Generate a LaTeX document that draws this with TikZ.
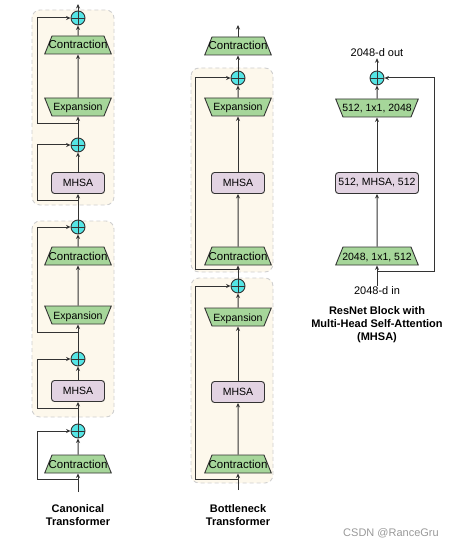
\documentclass[tikz,border=0pt]{standalone}
\usepackage{fontspec}
\setmainfont{Liberation Sans}
\usetikzlibrary{shapes.geometric,arrows.meta}

\definecolor{linegray}{HTML}{333333}
\definecolor{convgreen}{HTML}{A6D69A}
\definecolor{attnpurple}{HTML}{E2D3E2}
\definecolor{addcyan}{HTML}{55E5E5}
\definecolor{boxfill}{HTML}{FDF8EC}
\definecolor{boxgray}{HTML}{CFCFCF}

\newcommand{\boxfont}{\fontsize{10.5}{12}\selectfont}
% label of fixed size, may run over the slanted sides
\newcommand{\tlabel}[2][52pt]{\makebox[#1]{\rule[-2.5pt]{0pt}{13pt}#2}}

\tikzstyle{contract} = [trapezium, trapezium left angle=68, trapezium right angle=68, draw=linegray, line width=0.9pt, fill=convgreen, inner xsep=0pt, inner ysep=2.5pt, font=\boxfont]
\tikzstyle{expand} = [contract, shape border rotate=180]
\tikzstyle{widetext} = [font=\fontsize{11.5}{12}\selectfont]
\tikzstyle{attn} = [rectangle, rounded corners=3, draw=linegray, line width=0.9pt, fill=attnpurple, minimum width=53, minimum height=21, inner sep=0pt, font=\boxfont]
\tikzstyle{addop} = [circle, draw=linegray, line width=0.9pt, fill=addcyan, minimum size=14, inner sep=0pt,
    path picture={\draw[linegray, line width=0.8pt] (path picture bounding box.north) -- (path picture bounding box.south)
        (path picture bounding box.west) -- (path picture bounding box.east);}]
\tikzstyle{stage} = [draw=boxgray, line width=0.9pt, dash pattern=on 4pt off 3pt, fill=boxfill, rounded corners=8]
\tikzstyle{flow} = [draw=linegray, line width=1pt, -{Stealth[length=4.5pt,width=4pt]}]
\tikzstyle{caption} = [align=center, font=\bfseries\fontsize{11}{13}\selectfont]

\begin{document}
\begin{tikzpicture}[x=1pt, y=-1pt]
    \useasboundingbox (0,0) rectangle (462,548);
    % background stages
    \draw[stage] (32,10) rectangle (114,205);
    \draw[stage] (32,221) rectangle (114,417);
    \draw[stage] (191,68) rectangle (273,272);
    \draw[stage] (191,278) rectangle (273,483);

    % Canonical transformer
    \node[addop] (ca1) at (78,18) {};
    \node[contract, widetext] (cc1) at (78,45) {\tlabel{Contraction}};
    \node[expand] (ce1) at (78,107) {\tlabel{Expansion}};
    \node[addop] (ca2) at (78,145) {};
    \node[attn] (cm1) at (78,183) {MHSA};
    \node[addop] (ca3) at (78,227) {};
    \node[contract, widetext] (cc2) at (78,256) {\tlabel{Contraction}};
    \node[expand] (ce2) at (78,315) {\tlabel{Expansion}};
    \node[addop] (ca4) at (78,359) {};
    \node[attn] (cm2) at (78,391) {MHSA};
    \node[addop] (ca5) at (78,431) {};
    \node[contract, widetext] (cc3) at (78,464) {\tlabel{Contraction}};
    \coordinate (cin) at (78,492);
    \coordinate (cout) at (78,4);
    \coordinate (cs1) at (78,124);
    \coordinate (cs2) at (78,200);
    \coordinate (cs3) at (78,332);
    \coordinate (cs4) at (78,408);
    \coordinate (cs5) at (78,479);
    \foreach \a/\b in {cin/cc3, cc3/ca5, ca5/cm2, cm2/ca4, ca4/ce2, ce2/cc2, cc2/ca3,
                       ca3/cm1, cm1/ca2, ca2/ce1, ce1/cc1, cc1/ca1, ca1/cout}
        \draw[flow] (\a) -- (\b);
    \foreach \s/\t in {cs1/ca1, cs2/ca2, cs3/ca3, cs4/ca4, cs5/ca5}
        \draw[flow] (\s) -- ++(-41,0) |- (\t);
    \node[caption] (ccap) at (78,515) {Canonical\\Transformer};

    % Bottleneck transformer
    \node[contract, widetext] (bc1) at (238,46) {\tlabel{Contraction}};
    \node[addop] (ba1) at (238,78) {};
    \node[expand] (be1) at (238,107) {\tlabel{Expansion}};
    \node[attn] (bm1) at (238,183) {MHSA};
    \node[contract, widetext] (bc2) at (238,256) {\tlabel{Contraction}};
    \node[addop] (ba2) at (238,286) {};
    \node[expand] (be2) at (238,317) {\tlabel{Expansion}};
    \node[attn] (bm2) at (238,392) {MHSA};
    \node[contract, widetext] (bc3) at (238,464) {\tlabel{Contraction}};
    \coordinate (bin) at (238,490);
    \coordinate (bout) at (238,25);
    \coordinate (bs1) at (238,269);
    \coordinate (bs2) at (238,479);
    \foreach \a/\b in {bin/bc3, bc3/bm2, bm2/be2, be2/ba2, ba2/bc2, bc2/bm1,
                       bm1/be1, be1/ba1, ba1/bc1, bc1/bout}
        \draw[flow] (\a) -- (\b);
    \foreach \s/\t in {bs1/ba1, bs2/ba2}
        \draw[flow] (\s) -- ++(-43,0) |- (\t);
    \node[caption] (bcap) at (238,515) {Bottleneck\\Transformer};

    % ResNet block with MHSA
    \node[addop] (ra) at (377,78) {};
    \node[expand] (re) at (377,108) {\tlabel[68pt]{512, 1x1, 2048}};
    \node[attn, minimum width=83] (rm) at (377,183) {512, MHSA, 512};
    \node[contract] (rc) at (377,256) {\tlabel[68pt]{2048, 1x1, 512}};
    \node[font=\fontsize{11}{13}\selectfont, inner sep=1pt] (rout) at (377,53) {2048-d out};
    \node[font=\fontsize{11}{13}\selectfont, inner sep=1pt] (rin) at (377,291) {2048-d in};
    \coordinate (rs) at (377,271);
    \foreach \a/\b in {rin/rc, rc/rm, rm/re, re/ra, ra/rout}
        \draw[flow] (\a) -- (\b);
    \draw[flow] (rs) -- ++(57,0) |- (ra);
    \node[caption] (rcap) at (377,325) {ResNet Block with\\Multi-Head Self-Attention\\(MHSA)};

    \node[text=gray!80, font=\fontsize{11}{13}\selectfont] (mark) at (391,533) {CSDN @RanceGru};
\end{tikzpicture}
\end{document}
